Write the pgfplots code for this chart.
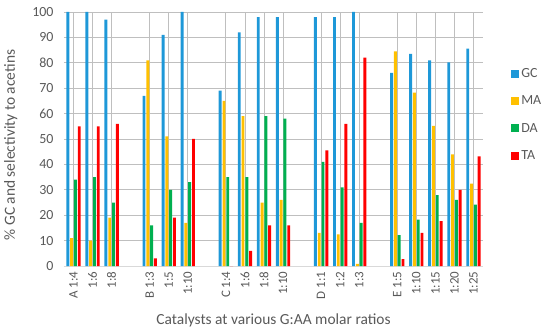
\documentclass[border=0pt]{standalone}
\usepackage{pgfplots}
\pgfplotsset{compat=1.18}
\usepackage{pgfplotstable}
\usepackage{fontspec}
\setmainfont{Carlito}
\definecolor{cGC}{RGB}{30,152,216}
\definecolor{cMA}{RGB}{255,192,0}
\definecolor{cDA}{RGB}{0,176,80}
\definecolor{cTA}{RGB}{255,0,0}
\definecolor{txt}{RGB}{89,89,89}
\definecolor{grid}{RGB}{217,217,217}
\pgfplotstableread{
x GC MA DA TA
0 100 11 34 55
1 100 10 35 55
2 97 19 25 56
4 67 81 16 3
5 91 51 30 19
6 100 17 33 50
8 69 65 35 0
9 92 59 35 6
10 98 25 59 16
11 98 26 58 16
13 98 13 41 45.5
14 98 12.5 31 56
15 100 0.8 17 82
17 76 84.5 12.2 2.7
18 83.5 68.3 18.3 13
19 81 55.2 27.9 17.7
20 80.2 43.9 26 30
21 85.6 32.4 24.2 43.2
}\datatable
\begin{document}
\begin{tikzpicture}
\begin{axis}[
  at={(0,0)}, anchor=south west,
  scale only axis,
  width=419bp, height=254bp,
  xmin=-0.5, xmax=21.5,
  ymin=0, ymax=100,
  ybar=0.9bp, bar width=2.9bp,
  ytick={0,10,...,100},
  xtick={0,1,2,4,5,6,8,9,10,11,13,14,15,17,18,19,20,21},
  xticklabels={A 1:4,1:6,1:8,B 1:3,1:5,1:10,C 1:4,1:6,1:8,1:10,D 1:1,1:2,1:3,E 1:5,1:10,1:15,1:20,1:25},
  x tick label style={rotate=90, anchor=east, font=\fontsize{13}{15}\selectfont, text=txt, xshift=-2bp},
  y tick label style={font=\fontsize{14}{16}\selectfont, text=txt, xshift=-7bp},
  /pgf/number format/assume math mode=true,
  major tick length=0pt,
  ymajorgrids, grid style={grid, line width=0.8bp},
  axis x line*=bottom,
  axis y line*=left,
  y axis line style={draw=none},
  x axis line style={draw=grid, line width=0.8bp, -},
  xlabel={Catalysts at various G:AA molar ratios},
  ylabel={\% GC and selectivity to acetins},
  label style={font=\fontsize{15.5}{17}\selectfont, text=txt},
  xlabel style={yshift=-8bp},
  ylabel style={yshift=8bp, xshift=-6bp},
  clip=false,
  legend style={at={(1.06,0.795)}, anchor=north west, draw=none, fill=none,
    font=\fontsize{14}{16}\selectfont, text=txt, row sep=13bp, cells={anchor=west}},
  legend image code/.code={\fill[#1] (0bp,-4bp) rectangle (8bp,4bp);},
]
\addplot[fill=cGC, draw=none] table[x=x, y=GC] {\datatable};
\addplot[fill=cMA, draw=none] table[x=x, y=MA] {\datatable};
\addplot[fill=cDA, draw=none] table[x=x, y=DA] {\datatable};
\addplot[fill=cTA, draw=none] table[x=x, y=TA] {\datatable};
\legend{GC,MA,DA,TA}
\end{axis}
\pgfresetboundingbox
\path[use as bounding box] (-64bp,-70bp) rectangle (486bp,266bp);
\end{tikzpicture}
\end{document}
